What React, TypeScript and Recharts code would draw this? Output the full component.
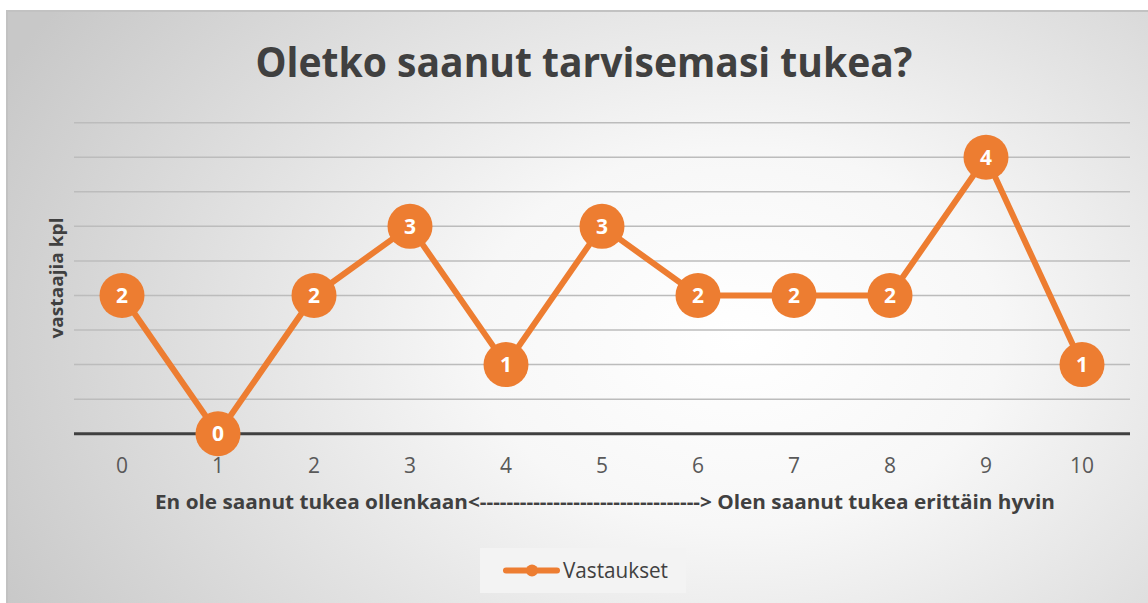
import React from "react";
import { LineChart, Line, XAxis, YAxis, CartesianGrid, Legend, LabelList, Label } from "recharts";

const categories = ["0", "1", "2", "3", "4", "5", "6", "7", "8", "9", "10"];
const responses = [2, 0, 2, 3, 1, 3, 2, 2, 2, 4, 1];
const yTicks = [0, 0.5, 1, 1.5, 2, 2.5, 3, 3.5, 4, 4.5];

const TITLE = "Oletko saanut tarvisemasi tukea?";
const X_TITLE = "En ole saanut tukea ollenkaan<---------------------------------> Olen saanut tukea erittäin hyvin";
const Y_TITLE = "vastaajia kpl";
const SERIES = "Vastaukset";

const ORANGE = "#ED7D31";
const FONT = "'Open Sans', sans-serif";

const rows = categories.map((c, i) => ({ cat: c, value: responses[i] }));

const Dot = (p: any) => <circle cx={p.cx} cy={p.cy} r={22.5} fill={ORANGE} />;

const PointLabel = (p: any) => (
  <text x={p.x} y={p.y + 7.5} textAnchor="middle" fill="#fff" fontFamily={FONT} fontWeight={700} fontSize={21}>
    {p.value}
  </text>
);

const Tick = (p: any) => (
  <text x={p.x} y={p.y + 39} textAnchor="middle" fill="#595959" fontFamily={FONT} fontSize={21}>
    {p.payload.value}
  </text>
);

const NoTick = () => <g />;

const LegendBox = () => (
  <div style={{ width: 206, height: 45, background: "#f3f3f3", position: "relative" }}>
    <svg width={206} height={45} style={{ position: "absolute", left: 0, top: 0 }}>
      <line x1={26} y1={22.5} x2={77} y2={22.5} stroke={ORANGE} strokeWidth={6} strokeLinecap="round" />
      <circle cx={52} cy={22.5} r={6} fill={ORANGE} />
      <text x={83} y={30} fill="#404040" fontFamily={FONT} fontSize={22} textLength={105} lengthAdjust="spacingAndGlyphs">
        {SERIES}
      </text>
    </svg>
  </div>
);

export default function App() {
  return (
    <div
      style={{
        position: "absolute",
        left: 6,
        top: 10,
        width: 1142,
        height: 593,
        boxSizing: "border-box",
        borderLeft: "2px solid #c2c2c2",
        borderTop: "2px solid #c2c2c2",
        background: "radial-gradient(ellipse 72% 100% at 64% 55%, #ffffff 0%, #f7f7f7 32%, #c8c8c8 100%)",
        overflow: "hidden",
      }}
    >
      <LineChart width={1140} height={591} data={rows} margin={{ top: 110.7, right: 18, bottom: 0, left: 66 }}>
        <text x={576} y={65} textAnchor="middle" fill="#404040" fontFamily={FONT} fontWeight={700} fontSize={41} textLength={657} lengthAdjust="spacingAndGlyphs">
          {TITLE}
        </text>
        <text
          x={55}
          y={266}
          transform="rotate(-90 55 266)"
          textAnchor="middle"
          fill="#404040"
          fontFamily={FONT}
          fontWeight={700}
          fontSize={18}
          textLength={121}
          lengthAdjust="spacingAndGlyphs"
        >
          {Y_TITLE}
        </text>
        <CartesianGrid horizontal vertical={false} stroke="#bcbcbc" strokeWidth={1.5} />
        <XAxis
          dataKey="cat"
          padding={{ left: 48, right: 48 }}
          height={124.3}
          axisLine={{ stroke: "#404040", strokeWidth: 3 }}
          tickLine={false}
          tickSize={0}
          tickMargin={0}
          tick={<Tick />}
          interval={0}
        >
          <Label
            content={(p: any) => (
              <text
                x={p.viewBox.x + p.viewBox.width / 2 + 3}
                y={p.viewBox.y + 75}
                textAnchor="middle"
                fill="#404040"
                fontFamily={FONT}
                fontWeight={700}
                fontSize={20}
                textLength={900}
                lengthAdjust="spacingAndGlyphs"
              >
                {X_TITLE}
              </text>
            )}
          />
        </XAxis>
        <YAxis
          domain={[0, 4.5]}
          ticks={yTicks}
          interval={0}
          width={0}
          axisLine={false}
          tickLine={false}
          tick={<NoTick />}
        />
        <Legend
          verticalAlign="bottom"
          content={<LegendBox />}
          wrapperStyle={{ position: "absolute", left: 472, top: 536, width: 206, height: 45, bottom: "auto" }}
        />
        <Line
          dataKey="value"
          name={SERIES}
          stroke={ORANGE}
          strokeWidth={6}
          dot={<Dot />}
          activeDot={false}
          isAnimationActive={false}
        >
          <LabelList dataKey="value" content={<PointLabel />} />
        </Line>
      </LineChart>
    </div>
  );
}
